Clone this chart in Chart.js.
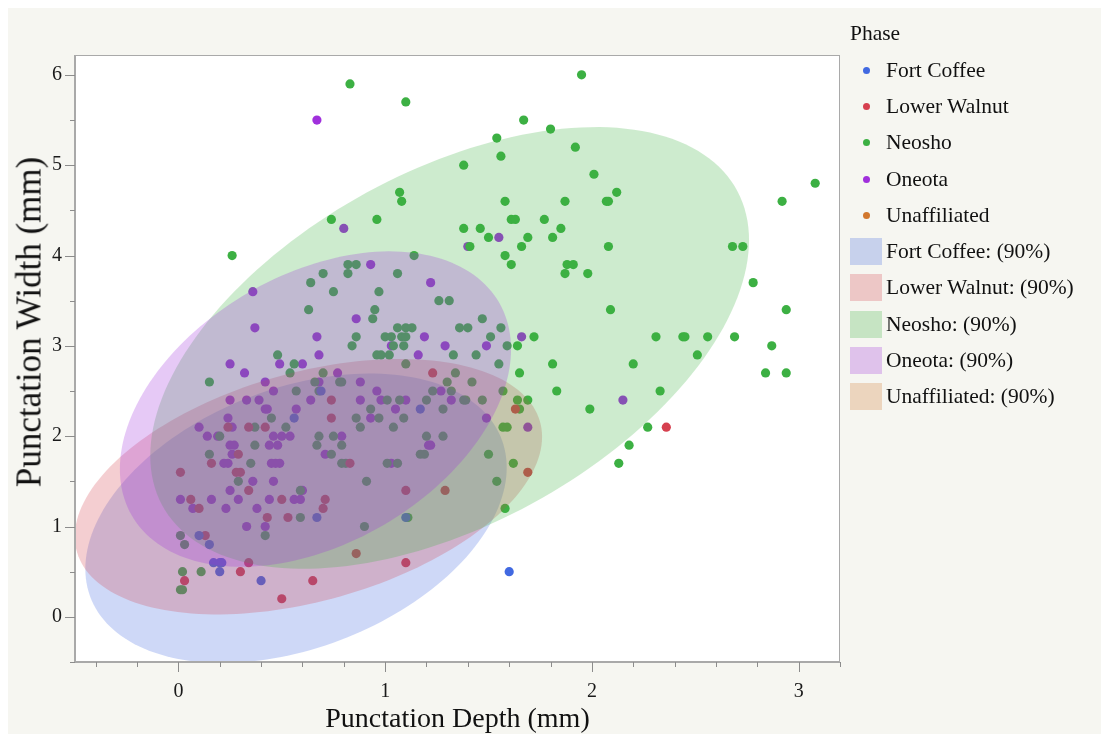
<!DOCTYPE html>
<html>
<head>
<meta charset="utf-8">
<script src="https://cdn.jsdelivr.net/npm/chart.js@4.4.1/dist/chart.umd.min.js"></script>
<style>
  html, body { margin: 0; padding: 0; background: #ffffff; }
  #wrap { position: relative; width: 1101px; height: 734px; overflow: hidden; }
  #panel { position: absolute; left: 8px; top: 8px; right: 0; bottom: 0; background: #f6f6f1; }
  #chart { position: absolute; left: 0; top: 0; }
  #ytitle { position: absolute; left: 29px; top: 322px; transform: translate(-50%, -50%) rotate(-90deg);
            font-family: 'Liberation Serif', 'DejaVu Serif', serif; font-size: 35px; line-height: 1;
            color: #111; white-space: nowrap; }
  #legend { position: absolute; left: 850px; top: 20px; font-family: 'Liberation Serif', 'DejaVu Serif', serif; color: #111; font-size: 21.5px; }
  #legend .head { height: 26px; line-height: 26px; margin-bottom: 6px; }
  #legend .row { height: 36.3px; display: flex; align-items: center; white-space: nowrap; }
  #legend .dot { width: 7px; height: 7px; border-radius: 50%; margin-left: 13px; margin-right: 16px; }
  #legend .box { width: 32px; height: 27px; margin-right: 4px; }
</style>
</head>
<body>
<div id="wrap">
  <div id="panel"></div>
  <canvas id="chart" width="1101" height="734"></canvas>
  <div id="ytitle">Punctation Width (mm)</div>
  <div id="legend"></div>
</div>
<script>
// --- data ---
const phases = ['Fort Coffee', 'Lower Walnut', 'Neosho', 'Oneota', 'Unaffiliated'];
const phaseColors = ['#4169e1', '#d6404f', '#3cb043', '#a030dc', '#d2782e'];

const fortCoffeePts = [
    [1.17, 2.3], [0.69, 2.5], [0.56, 2.2], [1.10, 1.1], [1.60, 0.5], [0.67, 1.1], [0.10, 0.9],
    [0.15, 0.8], [0.17, 0.6], [0.20, 0.6], [0.21, 0.6], [0.20, 0.5], [0.40, 0.4]
];
const lowerWalnutPts = [
    [2.36, 2.1], [1.23, 2.7], [0.74, 2.4], [1.63, 2.3], [0.74, 2.2], [0.83, 1.7], [1.10, 1.4],
    [1.29, 1.4], [1.69, 1.6], [0.86, 0.7], [1.10, 0.6], [0.24, 2.1], [0.34, 2.1], [0.42, 2.1],
    [0.29, 1.8], [0.16, 1.7], [0.01, 1.6], [0.28, 1.6], [0.30, 1.6], [0.34, 1.4], [0.06, 1.3],
    [0.50, 1.3], [0.71, 1.3], [0.10, 1.2], [0.70, 1.2], [0.43, 1.1], [0.53, 1.1], [0.13, 0.9],
    [0.34, 0.6], [0.30, 0.5], [0.03, 0.4], [0.65, 0.4], [0.50, 0.2]
];
const neoshoPts = [
    [0.74, 4.4], [0.26, 4.0], [0.83, 5.9], [1.10, 5.7], [1.95, 6.0], [1.67, 5.5], [1.80, 5.4],
    [1.54, 5.3], [1.92, 5.2], [1.56, 5.1], [1.38, 5.0], [1.07, 4.7], [1.08, 4.6], [1.58, 4.6],
    [1.87, 4.6], [0.96, 4.4], [1.61, 4.4], [1.63, 4.4], [1.77, 4.4], [1.38, 4.3], [1.46, 4.3],
    [1.85, 4.3], [1.50, 4.2], [1.69, 4.2], [1.81, 4.2], [1.41, 4.1], [1.66, 4.1], [1.58, 4.0],
    [1.14, 4.0], [2.01, 4.9], [2.12, 4.7], [2.07, 4.6], [2.08, 4.6], [2.08, 4.1], [2.68, 4.1],
    [2.73, 4.1], [2.92, 4.6], [3.08, 4.8], [1.98, 3.8], [2.78, 3.7], [2.09, 3.4], [2.94, 3.4],
    [2.31, 3.1], [2.44, 3.1], [2.45, 3.1], [2.56, 3.1], [2.69, 3.1], [2.87, 3.0], [2.51, 2.9],
    [2.20, 2.8], [2.84, 2.7], [2.94, 2.7], [2.33, 2.5], [1.99, 2.3], [2.27, 2.1], [2.18, 1.9],
    [2.13, 1.7], [1.61, 3.9], [1.88, 3.9], [1.91, 3.9], [1.87, 3.8], [0.82, 3.9], [0.86, 3.9],
    [0.82, 3.8], [1.06, 3.8], [0.75, 3.6], [0.97, 3.6], [1.26, 3.5], [1.31, 3.5], [0.95, 3.4],
    [0.94, 3.3], [1.47, 3.3], [1.06, 3.2], [1.10, 3.2], [1.13, 3.2], [1.36, 3.2], [1.40, 3.2],
    [1.56, 3.2], [0.86, 3.1], [1.00, 3.1], [1.03, 3.1], [1.08, 3.1], [1.10, 3.1], [1.51, 3.1],
    [1.72, 3.1], [0.84, 3.0], [1.04, 3.0], [1.09, 3.0], [1.59, 3.0], [1.64, 3.0], [0.96, 2.9],
    [0.98, 2.9], [1.02, 2.9], [1.33, 2.9], [1.44, 2.9], [1.10, 2.8], [1.55, 2.8], [1.81, 2.8],
    [1.34, 2.7], [1.65, 2.7], [0.78, 2.6], [0.79, 2.6], [1.30, 2.6], [1.42, 2.6], [1.23, 2.5],
    [1.32, 2.5], [1.57, 2.5], [1.83, 2.5], [1.01, 2.4], [1.07, 2.4], [1.20, 2.4], [1.38, 2.4],
    [1.39, 2.4], [1.47, 2.4], [1.64, 2.4], [1.69, 2.4], [0.93, 2.3], [1.28, 2.3], [1.65, 2.3],
    [0.86, 2.2], [0.97, 2.2], [1.09, 2.2], [0.88, 2.1], [1.04, 2.1], [1.57, 2.1], [1.59, 2.1],
    [0.75, 2.0], [1.20, 2.0], [1.28, 2.0], [0.79, 1.9], [1.50, 1.8], [0.74, 1.8], [1.17, 1.8],
    [1.19, 1.8], [1.62, 1.7], [0.79, 1.7], [0.81, 1.7], [1.01, 1.7], [1.06, 1.7], [0.91, 1.5],
    [1.54, 1.5], [1.58, 1.2], [1.11, 1.1], [0.90, 1.0], [0.70, 3.8], [0.64, 3.7], [0.63, 3.4],
    [0.48, 2.9], [0.56, 2.8], [0.54, 2.7], [0.70, 2.7], [0.15, 2.6], [0.66, 2.6], [0.57, 2.5],
    [0.68, 2.5], [0.45, 2.2], [0.37, 2.1], [0.52, 2.1], [0.20, 2.0], [0.68, 2.0], [0.37, 1.9],
    [0.67, 1.9], [0.15, 1.8], [0.35, 1.7], [0.29, 1.5], [0.59, 1.4], [0.59, 1.1], [0.42, 0.9],
    [0.01, 0.9], [0.03, 0.8], [0.02, 0.5], [0.11, 0.5], [0.01, 0.3], [0.02, 0.3]
];
const oneotaPts = [
    [0.67, 5.5], [0.80, 4.3], [1.55, 4.2], [1.40, 4.1], [0.93, 3.9], [1.22, 3.7], [0.86, 3.3],
    [1.19, 3.1], [1.66, 3.1], [1.03, 3.0], [1.29, 3.0], [1.49, 3.0], [1.16, 2.9], [0.77, 2.7],
    [0.88, 2.6], [1.27, 2.5], [0.96, 2.5], [0.88, 2.4], [0.98, 2.4], [1.10, 2.4], [1.32, 2.4],
    [1.05, 2.3], [0.93, 2.2], [1.49, 2.2], [1.69, 2.1], [0.79, 2.0], [1.21, 1.9], [1.22, 1.9],
    [1.03, 1.7], [2.15, 2.4], [0.36, 3.6], [0.37, 3.2], [0.67, 3.1], [0.68, 2.9], [0.49, 2.8],
    [0.60, 2.8], [0.25, 2.8], [0.32, 2.7], [0.42, 2.6], [0.68, 2.6], [0.46, 2.5], [0.25, 2.4],
    [0.33, 2.4], [0.39, 2.4], [0.64, 2.4], [0.42, 2.3], [0.43, 2.3], [0.57, 2.3], [0.24, 2.2],
    [0.10, 2.1], [0.26, 2.1], [0.14, 2.0], [0.19, 2.0], [0.46, 2.0], [0.50, 2.0], [0.54, 2.0],
    [0.25, 1.9], [0.27, 1.9], [0.44, 1.9], [0.48, 1.9], [0.26, 1.8], [0.71, 1.8], [0.22, 1.7],
    [0.24, 1.7], [0.45, 1.7], [0.47, 1.7], [0.49, 1.7], [0.36, 1.5], [0.46, 1.5], [0.25, 1.4],
    [0.60, 1.4], [0.01, 1.3], [0.16, 1.3], [0.29, 1.3], [0.44, 1.3], [0.56, 1.3], [0.59, 1.3],
    [0.07, 1.2], [0.23, 1.2], [0.38, 1.2], [0.33, 1.0], [0.42, 1.0]
];
const unaffiliatedPts = [];

// 90% density ellipses: centre, half extent along x and y, correlation (null = none drawn)
const ellipseCenterX = [0.569, 0.629, 1.312, 0.663, null];
const ellipseCenterY = [1.092, 1.441, 2.977, 2.300, null];
const ellipseHalfX   = [1.019, 1.130, 1.448, 0.946, null];
const ellipseHalfY   = [1.602, 1.414, 2.445, 1.746, null];
const ellipseCorr    = [0.35, 0.39, 0.488, 0.38, null];

const xTickLabels = [0, 1, 2, 3];
const yTickLabels = [0, 1, 2, 3, 4, 5, 6];

const phasePoints = [fortCoffeePts, lowerWalnutPts, neoshoPts, oneotaPts, unaffiliatedPts];
const serif = "'Liberation Serif', 'DejaVu Serif', serif";

function withAlpha(hex, a) {
    const n = parseInt(hex.slice(1), 16);
    return `rgba(${(n >> 16) & 255}, ${(n >> 8) & 255}, ${n & 255}, ${a})`;
}

// white plot area
const plotBackground = {
    id: 'plotBackground',
    beforeDraw(chart) {
        const { ctx, chartArea: a } = chart;
        ctx.save();
        ctx.fillStyle = '#ffffff';
        ctx.fillRect(a.left, a.top, a.right - a.left, a.bottom - a.top);
        ctx.restore();
    }
};

// density ellipses drawn over the points, like the original
const densityEllipses = {
    id: 'densityEllipses',
    afterDatasetsDraw(chart) {
        const { ctx, chartArea: a, scales } = chart;
        ctx.save();
        ctx.beginPath();
        ctx.rect(a.left, a.top, a.right - a.left, a.bottom - a.top);
        ctx.clip();
        phases.forEach((p, i) => {
            if (ellipseCorr[i] === null) return;
            const phi = Math.acos(ellipseCorr[i]);
            ctx.beginPath();
            for (let k = 0; k <= 180; k++) {
                const t = k / 180 * Math.PI * 2;
                const xv = ellipseCenterX[i] + ellipseHalfX[i] * Math.cos(t);
                const yv = ellipseCenterY[i] + ellipseHalfY[i] * Math.cos(t - phi);
                const px = scales.x.getPixelForValue(xv);
                const py = scales.y.getPixelForValue(yv);
                if (k === 0) ctx.moveTo(px, py); else ctx.lineTo(px, py);
            }
            ctx.closePath();
            ctx.fillStyle = withAlpha(phaseColors[i], 0.26);
            ctx.fill();
        });
        ctx.restore();
    }
};

// frame and tick marks (major + minor)
const frameAndTicks = {
    id: 'frameAndTicks',
    afterDraw(chart) {
        const { ctx, chartArea: a, scales } = chart;
        ctx.save();
        ctx.strokeStyle = '#a9a9a9';
        ctx.lineWidth = 1;
        ctx.strokeRect(a.left + 0.5, a.top + 0.5, a.right - a.left - 1, a.bottom - a.top - 1);
        ctx.lineWidth = 2;
        ctx.beginPath();
        ctx.moveTo(a.left, a.top); ctx.lineTo(a.left, a.bottom); ctx.lineTo(a.right, a.bottom);
        ctx.stroke();
        ctx.lineWidth = 1;
        ctx.strokeStyle = '#8c8c8c';
        ctx.beginPath();
        for (let v = -0.4; v <= 3.21; v += 0.2) {
            const x = Math.round(scales.x.getPixelForValue(v)) + 0.5;
            const major = Math.abs(v - Math.round(v)) < 1e-6;
            ctx.moveTo(x, a.bottom); ctx.lineTo(x, a.bottom + (major ? 10 : 5));
        }
        for (let v = -0.5; v <= 6.01; v += 0.5) {
            const y = Math.round(scales.y.getPixelForValue(v)) + 0.5;
            const major = Math.abs(v - Math.round(v)) < 1e-6;
            ctx.moveTo(a.left, y); ctx.lineTo(a.left - (major ? 10 : 5), y);
        }
        ctx.stroke();
        ctx.restore();
    }
};

const datasets = phases.map((p, i) => ({
    label: p,
    data: phasePoints[i].map(d => ({ x: d[0], y: d[1] })),
    backgroundColor: phaseColors[i],
    borderWidth: 0,
    pointRadius: 4.6,
    pointHoverRadius: 4.6
}));

new Chart(document.getElementById('chart'), {
    type: 'scatter',
    data: { datasets: datasets },
    options: {
        responsive: false,
        animation: false,
        events: [],
        layout: { padding: { top: 55, right: 261, left: 0, bottom: 0 } },
        plugins: { legend: { display: false }, tooltip: { enabled: false } },
        scales: {
            x: {
                type: 'linear', min: -0.5, max: 3.2,
                grid: { display: false, drawTicks: false },
                border: { display: false },
                afterBuildTicks: s => { s.ticks = xTickLabels.map(v => ({ value: v })); },
                ticks: { font: { family: serif, size: 20 }, color: '#1a1a1a', padding: 18 },
                title: { display: true, text: 'Punctation Depth (mm)', color: '#111',
                         font: { family: serif, size: 28 }, padding: { top: 0, bottom: -2 } },
                afterFit: s => { s.height = 72; }
            },
            y: {
                type: 'linear', min: -0.5, max: 6.22,
                grid: { display: false, drawTicks: false },
                border: { display: false },
                afterBuildTicks: s => { s.ticks = yTickLabels.map(v => ({ value: v })); },
                ticks: { font: { family: serif, size: 20 }, color: '#1a1a1a', padding: 13 },
                title: { display: false },
                afterFit: s => { s.width = 75; }
            }
        }
    },
    plugins: [plotBackground, densityEllipses, frameAndTicks]
});

// legend
const legendEl = document.getElementById('legend');
let html = '<div class="head">Phase</div>';
phases.forEach((p, i) => {
    html += `<div class="row"><span class="dot" style="background:${phaseColors[i]}"></span>${p}</div>`;
});
phases.forEach((p, i) => {
    html += `<div class="row"><span class="box" style="background:${withAlpha(phaseColors[i], 0.26)}"></span>${p}: (90%)</div>`;
});
legendEl.innerHTML = html;
</script>
</body>
</html>
